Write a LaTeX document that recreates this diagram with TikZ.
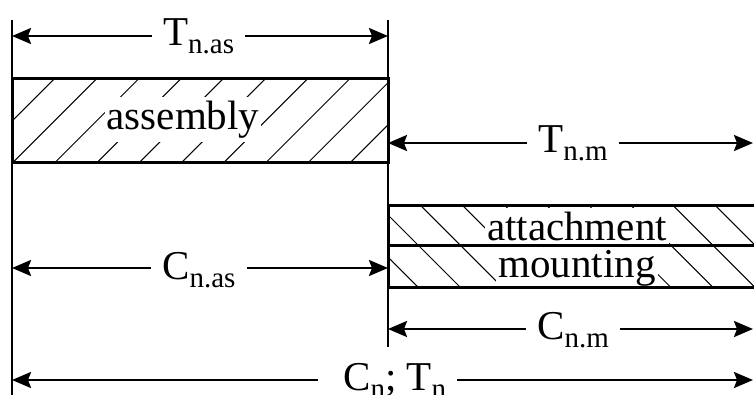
\documentclass[tikz,border=0pt]{standalone}
\usepackage{fontspec}
\setmainfont{Liberation Serif}
\usetikzlibrary{arrows.meta}
\newcommand{\lowsub}[1]{\raisebox{-8pt}{\fontsize{29}{29}\selectfont #1}}
\begin{document}
\begin{tikzpicture}[x=1pt,y=-1pt,
  dimline/.style={line width=2.5pt, -{Stealth[length=19pt,width=16pt,inset=3pt]}},
  extline/.style={line width=1.5pt},
  border/.style={line width=3pt},
  hatch/.style={line width=1pt},
  lbl/.style={font=\fontsize{41}{41}\selectfont, inner xsep=11pt, inner ysep=0pt, anchor=base west},
  boxtxt/.style={font=\fontsize{41}{41}\selectfont, fill=white, inner xsep=2pt, inner ysep=4pt, anchor=base}
]
\useasboundingbox (0,0) rectangle (754,394);
\clip (0,0) rectangle (754,394);

% hatching of the assembly bar
\begin{scope}
  \clip (12,78) rectangle (388,162);
  \foreach \k in {-3,...,10} \draw[hatch] (13.3+42.2*\k,162) -- ++(84,-84);
\end{scope}
% hatching of the attachment / mounting bar
\begin{scope}
  \clip (388,205) rectangle (770,287);
  \foreach \k in {-3,...,10} \draw[hatch] (378+42.1*\k,205) -- ++(82,82);
\end{scope}

% texts in the bars
\node[boxtxt] (asm) at (183,129) {assembly};
\node[boxtxt] (att) at (577,240) {attachment};
\node[boxtxt] (mnt) at (577,277) {mounting};

% bar outlines
\draw[border] (12,78) rectangle (388,162);
\draw[border] (388,205) rectangle (775,287);
\draw[border] (388,245) -- (775,245);

% extension lines
\draw[extline] (12,20) -- (12,400);
\draw[extline] (388,20) -- (388,347);

% T n.as
\coordinate (a1l) at (12,36); \coordinate (a1r) at (388,36);
\node[lbl] (tas) at (152,45) {T\lowsub{n.as}};
\draw[dimline] (tas.west |- a1l) -- (a1l);
\draw[dimline] (tas.east |- a1r) -- (a1r);

% T n.m
\coordinate (a2l) at (388,143); \coordinate (a2r) at (753,143);
\node[lbl] (tnm) at (527,152) {T\lowsub{n.m}};
\draw[dimline] (tnm.west |- a2l) -- (a2l);
\draw[dimline] (tnm.east |- a2r) -- (a2r);

% C n.as
\coordinate (a3l) at (12,268); \coordinate (a3r) at (388,268);
\node[lbl] (cas) at (151,279) {C\lowsub{n.as}};
\draw[dimline] (cas.west |- a3l) -- (a3l);
\draw[dimline] (cas.east |- a3r) -- (a3r);

% C n.m
\coordinate (a4l) at (388,329); \coordinate (a4r) at (753,329);
\node[lbl] (cnm) at (526,339) {C\lowsub{n.m}};
\draw[dimline] (cnm.west |- a4l) -- (a4l);
\draw[dimline] (cnm.east |- a4r) -- (a4r);

% C n ; T n
\coordinate (a5l) at (12,380); \coordinate (a5r) at (753,380);
\node[lbl] (cn) at (332,390) {C\lowsub{n}; T\lowsub{n}};
\draw[dimline] ([xshift=-14pt]cn.west |- a5l) -- (a5l);
\draw[dimline] (cn.east |- a5r) -- (a5r);
\end{tikzpicture}
\end{document}
